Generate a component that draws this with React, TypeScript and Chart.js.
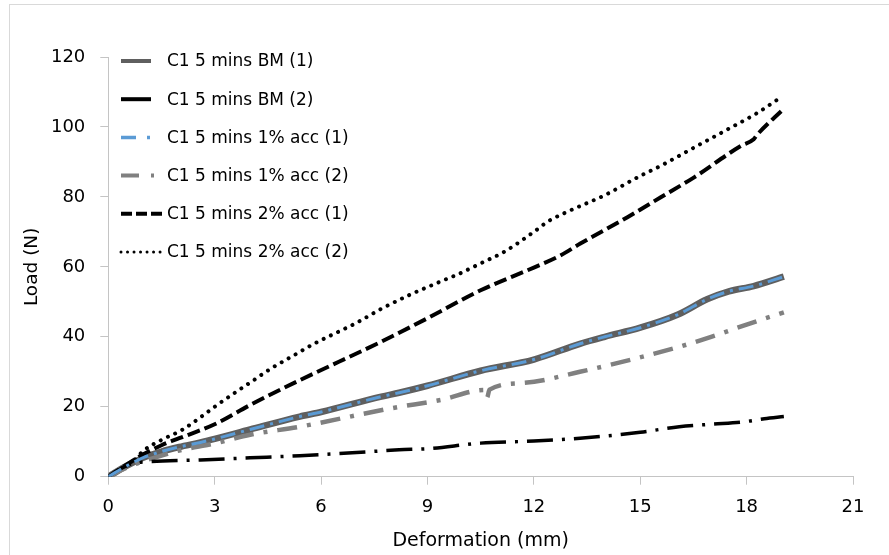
import { useEffect, useRef } from "react";
import { Chart, registerables } from "chart.js";

Chart.register(...registerables);

const seriesNames = [
  "C1 5 mins BM (1)",
  "C1 5 mins BM (2)",
  "C1 5 mins 1% acc (1)",
  "C1 5 mins 1% acc (2)",
  "C1 5 mins 2% acc (1)",
  "C1 5 mins 2% acc (2)",
];

const xTicks = [0, 3, 6, 9, 12, 15, 18, 21];
const yTicks = [0, 20, 40, 60, 80, 100, 120];

const bm1X = [0, 0.5, 1, 1.5, 2, 2.6, 3, 4, 5.4, 6, 7.7, 8.2, 9, 10.5, 12, 13.3, 14, 15, 16.05, 16.9, 17.5, 18.2, 19.05];
const bm1Y = [0, 3, 5.5, 7.2, 8.5, 9.8, 10.8, 13.5, 17.2, 18.5, 22.9, 24, 26, 30.3, 33.5, 38, 40, 42.6, 46.3, 50.8, 53, 54.5, 57.2];

const bm2X = [0, 0.3, 0.7, 1, 2.6, 4, 5.4, 7, 8.2, 9, 10.5, 12, 13.3, 15, 16.1, 17, 18, 18.5, 19.05];
const bm2Y = [0, 2, 3.9, 4.2, 4.8, 5.4, 6.0, 6.9, 7.7, 8.0, 9.6, 10.2, 11.0, 12.7, 14.3, 15.0, 15.8, 16.6, 17.2];

const acc1aX = [0, 0.5, 1, 1.5, 2, 2.6, 3, 4, 5.4, 6, 7.7, 8.2, 9, 10.5, 12, 13.3, 14, 15, 16.05, 16.9, 17.5, 18.2, 19.05];
const acc1aY = [0, 3, 5.5, 7.2, 8.5, 9.8, 10.8, 13.5, 17.2, 18.5, 22.9, 24, 26, 30.3, 33.5, 38, 40, 42.6, 46.3, 50.8, 53, 54.5, 57.2];

const acc1bX = [0, 0.5, 1, 1.5, 2, 3, 4, 5.4, 8.0, 9.4, 10.6, 10.68, 10.75, 11.7, 13.3, 15.95, 17, 18, 19.05];
const acc1bY = [0, 2.5, 4.5, 6, 7.5, 9.5, 12, 14.3, 19.6, 22, 24.8, 22.6, 24.9, 26.8, 30, 36.7, 40, 43.5, 47];

const acc2aX = [0, 0.3, 0.6, 1, 1.5, 2, 3, 4, 5.4, 7.7, 9, 10.5, 12, 12.76, 13.3, 14.64, 15.58, 16.52, 17.84, 18.2, 18.3, 19.04];
const acc2aY = [0, 2, 4, 6.5, 9, 11, 15, 20.5, 27.6, 38.6, 45.3, 53.3, 59.8, 63.3, 66.6, 74.2, 79.9, 85.6, 94.6, 96.5, 97.8, 105.1];

const acc2bX = [0, 0.3, 0.7, 1, 1.5, 2.1, 2.6, 3, 3.5, 4.1, 4.6, 5.2, 5.8, 6.5, 7, 7.7, 8.5, 9.3, 9.65, 9.8, 10.5, 11.2, 12, 12.4, 13, 14, 15, 15.6, 16.5, 17.5, 18.3, 18.9];
const acc2bY = [0, 2, 4.5, 7.5, 10.5, 13.5, 17, 20, 23.5, 27.6, 31, 34.5, 38, 41.5, 44, 48, 52, 55.5, 57, 57.6, 61, 64.5, 70, 73, 76, 80.5, 86, 89, 94, 99.5, 104, 108];

const zip = (xs: number[], ys: number[]) => xs.map((x, i) => ({ x, y: ys[i] }));

const FONT = '"DejaVu Sans", sans-serif';

const insideLegend = {
  id: "insideLegend",
  afterDraw(chart: any) {
    const ctx = chart.ctx as CanvasRenderingContext2D;
    ctx.save();
    chart.data.datasets.forEach((ds: any, i: number) => {
      const y = 61 + i * 38.2;
      const x0 = 121;
      const len = ds.legendLen || 30;
      ctx.beginPath();
      ctx.setLineDash(ds.legendDash || ds.borderDash || []);
      ctx.lineWidth = ds.legendWidth || ds.borderWidth;
      ctx.strokeStyle = ds.borderColor;
      ctx.lineCap = ds.borderCapStyle || "butt";
      ctx.moveTo(x0, y);
      ctx.lineTo(x0 + len, y);
      ctx.stroke();
      ctx.setLineDash([]);
      ctx.fillStyle = "#000";
      ctx.font = `17px ${FONT}`;
      ctx.textBaseline = "middle";
      ctx.textAlign = "left";
      ctx.fillText(ds.label, 167, y + 1);
    });
    ctx.restore();
  },
};

export default function App() {
  const ref = useRef<HTMLCanvasElement | null>(null);

  useEffect(() => {
    if (!ref.current) return;
    const axisColor = "#c4c4c4";
    const chart = new Chart(ref.current, {
      type: "scatter",
      data: {
        datasets: [
          {
            label: seriesNames[0],
            data: zip(bm1X, bm1Y),
            borderColor: "#5f5f5f",
            borderWidth: 6.5,
            legendWidth: 4,
            order: 2,
          } as any,
          {
            label: seriesNames[1],
            data: zip(bm2X, bm2Y),
            borderColor: "#000000",
            borderWidth: 3.5,
            borderDash: [26, 9, 3, 9],
            legendDash: [],
            legendWidth: 4,
            order: 1,
          } as any,
          {
            label: seriesNames[2],
            data: zip(acc1aX, acc1aY),
            borderColor: "#5b9bd5",
            borderWidth: 3,
            borderDash: [15, 6, 3, 6],
            legendDash: [15, 11, 3, 10],
            legendLen: 31,
            legendWidth: 3.5,
            order: 0,
          } as any,
          {
            label: seriesNames[3],
            data: zip(acc1bX, acc1bY),
            borderColor: "#808080",
            borderWidth: 4.5,
            borderDash: [20, 10, 4, 10],
            legendDash: [18, 12, 3, 10],
            legendLen: 34,
            legendWidth: 4,
            order: 1,
          } as any,
          {
            label: seriesNames[4],
            data: zip(acc2aX, acc2aY),
            borderColor: "#000000",
            borderWidth: 4,
            borderDash: [13, 5],
            legendDash: [11, 4],
            legendLen: 41,
            order: 1,
          } as any,
          {
            label: seriesNames[5],
            data: zip(acc2bX, acc2bY),
            borderColor: "#000000",
            borderWidth: 4,
            borderDash: [0.01, 8],
            borderCapStyle: "round",
            legendDash: [0.01, 6.5],
            legendWidth: 3,
            legendLen: 41,
            order: 1,
          } as any,
        ],
      },
      options: {
        responsive: false,
        animation: false,
        showLine: true,
        layout: { padding: { top: 57, right: 36, left: 0, bottom: 0 } },
        elements: {
          point: { radius: 0, hoverRadius: 0 },
          line: { cubicInterpolationMode: "monotone" },
        },
        plugins: { legend: { display: false }, tooltip: { enabled: false } },
        scales: {
          x: {
            type: "linear",
            min: 0,
            max: 21,
            afterBuildTicks: (s: any) => {
              s.ticks = xTicks.map((v) => ({ value: v }));
            },
            afterFit: (s: any) => {
              s.height = 78.3;
            },
            grid: { drawOnChartArea: false, drawTicks: true, tickLength: 8, color: axisColor },
            border: { color: axisColor, width: 1 },
            ticks: { color: "#000", font: { family: FONT, size: 18 }, padding: 12, maxRotation: 0 },
            title: {
              display: true,
              text: "Deformation (mm)",
              color: "#000",
              font: { family: FONT, size: 19 },
              padding: { top: 0, bottom: 2.5 },
            },
          },
          y: {
            type: "linear",
            min: 0,
            max: 120,
            afterBuildTicks: (s: any) => {
              s.ticks = yTicks.map((v) => ({ value: v }));
            },
            afterFit: (s: any) => {
              s.width = 108.3;
            },
            grid: { drawOnChartArea: false, drawTicks: true, tickLength: 8, color: axisColor },
            border: { color: axisColor, width: 1 },
            ticks: { color: "#000", font: { family: FONT, size: 18 }, padding: 15 },
            title: {
              display: true,
              text: "Load (N)",
              color: "#000",
              font: { family: FONT, size: 18.5 },
              padding: { top: 21, bottom: 0 },
            },
          },
        },
      } as any,
      plugins: [insideLegend],
    });
    return () => chart.destroy();
  }, []);

  return (
    <div
      style={{
        position: "fixed",
        left: 0,
        top: 0,
        width: 889,
        height: 555,
        overflow: "hidden",
        background: "#fff",
      }}
    >
      <div
        style={{
          position: "absolute",
          left: 9,
          top: 4,
          width: 1000,
          height: 1000,
          border: "1px solid #d9d9d9",
        }}
      />
      <canvas
        ref={ref}
        width={889}
        height={555}
        style={{ position: "absolute", left: 0, top: 0, width: 889, height: 555 }}
      />
    </div>
  );
}
